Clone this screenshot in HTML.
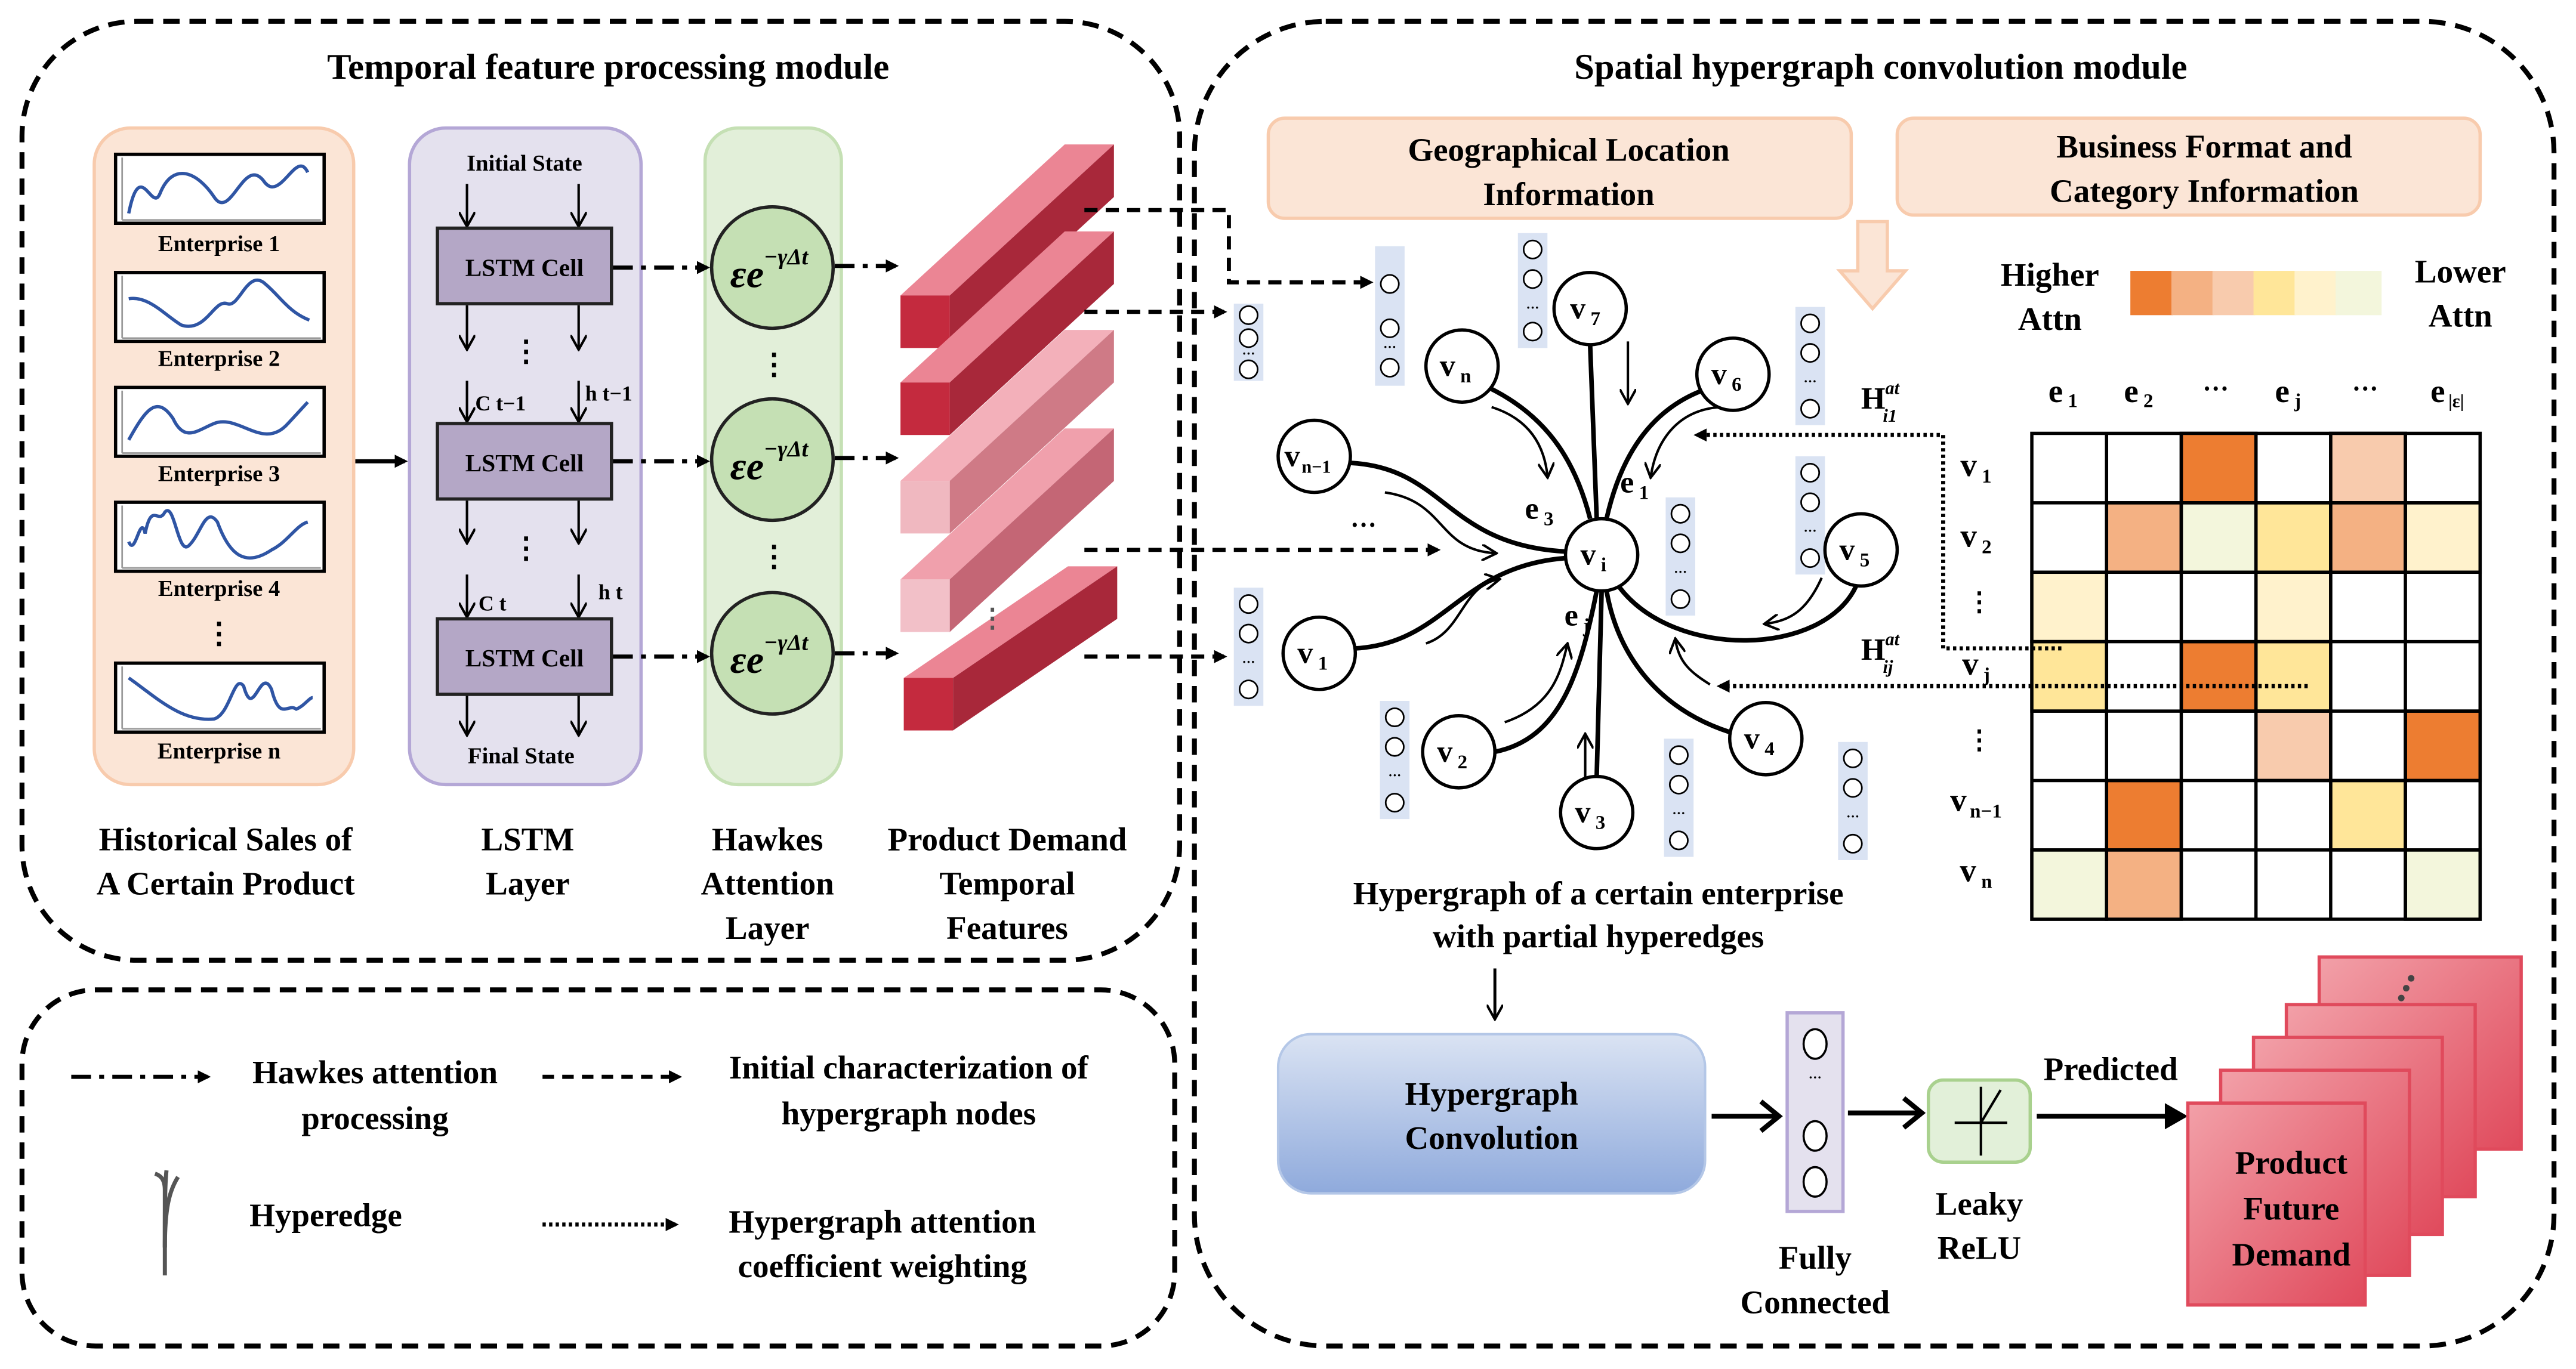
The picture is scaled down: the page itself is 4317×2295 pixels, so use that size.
<!DOCTYPE html>
<html><head><meta charset="utf-8"><style>html,body{margin:0;padding:0;background:#fff}svg{display:block}svg text{font-family:"Liberation Serif","DejaVu Serif",serif;font-weight:bold}</style></head>
<body>
<svg width="4317" height="2295" viewBox="0 0 1568 834" xmlns="http://www.w3.org/2000/svg" style="font-family:'Liberation Serif',serif;font-weight:bold">
<defs>
<marker id="ah" markerWidth="8" markerHeight="8" refX="6" refY="4" orient="auto" markerUnits="userSpaceOnUse"><path d="M0,0 L8,4 L0,8 Z" fill="#000"/></marker>
<marker id="ao" markerWidth="10" markerHeight="10" refX="8" refY="5" orient="auto" markerUnits="userSpaceOnUse"><path d="M0,0 L9,5 L0,10" fill="none" stroke="#000" stroke-width="1.5"/></marker>
<linearGradient id="hg" x1="0" y1="0" x2="0" y2="1"><stop offset="0" stop-color="#DAE3F3"/><stop offset="1" stop-color="#8FAADC"/></linearGradient>
<linearGradient id="pg" x1="0" y1="0" x2="1" y2="1"><stop offset="0" stop-color="#F2A0A8"/><stop offset="1" stop-color="#E04A5C"/></linearGradient>
</defs>

<!-- Left module -->
<rect x="13" y="13" width="705" height="572" rx="70" fill="none" stroke="#000" stroke-width="3" stroke-dasharray="10,6"/>
<text x="370" y="48" font-size="22" text-anchor="middle">Temporal feature processing module</text>

<rect x="57" y="78" width="158" height="400" rx="22" fill="#FBE5D6" stroke="#F8CBAD" stroke-width="2"/>
<g fill="#fff" stroke="#000" stroke-width="2">
<rect x="70" y="94" width="127" height="42"/><rect x="70" y="166" width="127" height="42"/><rect x="70" y="236" width="127" height="42"/><rect x="70" y="306" width="127" height="42"/><rect x="70" y="404" width="127" height="42"/>
</g>
<g fill="none" stroke="#2F55A4" stroke-width="2">
<path d="M78,130 C85,95 92,130 97,118 C105,98 120,105 130,120 C140,135 148,95 160,110 C170,125 180,90 187,105"/>
<path d="M78,182 C90,180 100,192 110,198 C125,203 130,182 138,185 C145,188 150,165 160,172 C170,180 175,190 188,195"/>
<path d="M78,268 C88,250 95,240 105,255 C112,270 120,262 130,258 C145,252 160,275 175,258 L187,245"/>
<path d="M78,330 C82,340 85,312 88,325 C92,305 96,320 100,312 C106,305 108,340 115,332 C122,325 125,308 132,318 C140,340 150,345 165,335 C175,330 180,320 187,318"/>
<path d="M78,413 C95,425 110,440 130,438 C140,435 142,410 148,418 C154,440 158,405 165,420 C170,440 175,428 180,432 C185,430 188,425 190,425"/>
</g>
<g fill="none" stroke="#999" stroke-width="1">
<path d="M74,134 L195,134 M74,134 L74,96"/><path d="M74,206 L195,206 M74,206 L74,168"/><path d="M74,276 L195,276 M74,276 L74,238"/><path d="M74,346 L195,346 M74,346 L74,308"/><path d="M74,444 L195,444 M74,444 L74,406"/>
</g>
<g font-size="14" text-anchor="middle">
<text x="133" y="153">Enterprise 1</text><text x="133" y="223">Enterprise 2</text><text x="133" y="293">Enterprise 3</text><text x="133" y="363">Enterprise 4</text><text x="133" y="462">Enterprise n</text>
<text x="133" y="392" font-size="18">⋮</text>
</g>
<line x1="216" y1="281" x2="246" y2="281" stroke="#000" stroke-width="2.5" marker-end="url(#ah)"/>

<rect x="249" y="78" width="141" height="400" rx="22" fill="#E4E1EE" stroke="#B4A7D6" stroke-width="2"/>
<text x="319" y="104" font-size="14" text-anchor="middle">Initial State</text>
<text x="317" y="465" font-size="14" text-anchor="middle">Final State</text>
<g stroke="#000" stroke-width="1.5" marker-end="url(#ao)">
<line x1="284" y1="112" x2="284" y2="137"/><line x1="352" y1="112" x2="352" y2="137"/>
<line x1="284" y1="186" x2="284" y2="212"/><line x1="352" y1="186" x2="352" y2="212"/>
<line x1="284" y1="232" x2="284" y2="256"/><line x1="352" y1="232" x2="352" y2="256"/>
<line x1="284" y1="305" x2="284" y2="330"/><line x1="352" y1="305" x2="352" y2="330"/>
<line x1="284" y1="350" x2="284" y2="375"/><line x1="352" y1="350" x2="352" y2="375"/>
<line x1="284" y1="423" x2="284" y2="447"/><line x1="352" y1="423" x2="352" y2="447"/>
</g>
<g fill="#B4A7C6" stroke="#222" stroke-width="2">
<rect x="266" y="139" width="106" height="46"/><rect x="266" y="258" width="106" height="46"/><rect x="266" y="377" width="106" height="46"/>
</g>
<g font-size="15" text-anchor="middle">
<text x="319" y="168">LSTM Cell</text><text x="319" y="287">LSTM Cell</text><text x="319" y="406">LSTM Cell</text>
<text x="320" y="220" font-size="18">⋮</text><text x="320" y="340" font-size="18">⋮</text>
</g>
<g font-size="13">
<text x="289" y="250">C t−1</text><text x="356" y="244">h t−1</text><text x="291" y="372">C t</text><text x="364" y="365">h t</text>
</g>

<rect x="429" y="78" width="83" height="400" rx="20" fill="#E2EFD9" stroke="#C5E0B4" stroke-width="2"/>
<g fill="#C5E0B4" stroke="#222" stroke-width="2">
<circle cx="470" cy="163" r="37"/><circle cx="470" cy="280" r="37"/><circle cx="470" cy="398" r="37"/>
</g>
<g font-size="24" font-style="italic" font-weight="normal" text-anchor="middle">
<text x="468" y="175">εe<tspan font-size="14" dy="-14">−γΔt</tspan></text>
<text x="468" y="292">εe<tspan font-size="14" dy="-14">−γΔt</tspan></text>
<text x="468" y="410">εe<tspan font-size="14" dy="-14">−γΔt</tspan></text>
</g>
<text x="471" y="228" font-size="18" text-anchor="middle">⋮</text>
<text x="471" y="345" font-size="18" text-anchor="middle">⋮</text>
<g stroke="#000" stroke-width="2.5" stroke-dasharray="12,5,3,5" marker-end="url(#ah)">
<line x1="373" y1="163" x2="430" y2="163"/><line x1="373" y1="281" x2="430" y2="281"/><line x1="373" y1="400" x2="430" y2="400"/>
<line x1="508" y1="162" x2="545" y2="162"/><line x1="508" y1="279" x2="545" y2="279"/><line x1="508" y1="398" x2="545" y2="398"/>
</g>

<!-- bars -->
<g>
<g><polygon points="548,180 648,88 678,88 578,180" fill="#EB8594"/><polygon points="578,180 678,88 678,120 578,212" fill="#A8283A"/><rect x="548" y="180" width="30" height="32" fill="#C42A3E"/></g>
<g><polygon points="548,233 648,141 678,141 578,233" fill="#EB8594"/><polygon points="578,233 678,141 678,173 578,265" fill="#A8283A"/><rect x="548" y="233" width="30" height="32" fill="#C42A3E"/></g>
<g><polygon points="548,293 648,201 678,201 578,293" fill="#F3B0BA"/><polygon points="578,293 678,201 678,233 578,325" fill="#CF7A86"/><rect x="548" y="293" width="30" height="32" fill="#F0B8C0"/></g>
<g><polygon points="548,353 648,261 678,261 578,353" fill="#F0A0AC"/><polygon points="578,353 678,261 678,293 578,385" fill="#C46675"/><rect x="548" y="353" width="30" height="32" fill="#F2C0C8"/></g>
<g><polygon points="550,413 650,345 680,345 580,413" fill="#EB8594"/><polygon points="580,413 680,345 680,377 580,445" fill="#A8283A"/><rect x="550" y="413" width="30" height="32" fill="#C42A3E"/></g>
<text x="604" y="382" font-size="16" fill="#555" text-anchor="middle">⋮</text>
</g>
<g font-size="20" text-anchor="middle">
<text x="137" y="518">Historical Sales of</text><text x="137" y="545">A Certain Product</text>
<text x="321" y="518">LSTM</text><text x="321" y="545">Layer</text>
<text x="467" y="518">Hawkes</text><text x="467" y="545">Attention</text><text x="467" y="572">Layer</text>
<text x="613" y="518">Product Demand</text><text x="613" y="545">Temporal</text><text x="613" y="572">Features</text>
</g>

<!-- legend box -->
<rect x="13" y="603" width="702" height="217" rx="45" fill="none" stroke="#000" stroke-width="3" stroke-dasharray="10,6"/>
<line x1="43" y1="656" x2="126" y2="656" stroke="#000" stroke-width="2.5" stroke-dasharray="12,5,3,5" marker-end="url(#ah)"/>
<line x1="330" y1="656" x2="413" y2="656" stroke="#000" stroke-width="2.5" stroke-dasharray="7,5" marker-end="url(#ah)"/>
<line x1="330" y1="746" x2="411" y2="746" stroke="#000" stroke-width="2.5" stroke-dasharray="2,2" marker-end="url(#ah)"/>
<g fill="none" stroke="#555" stroke-width="2.5"><path d="M100,777 L100,725 C100,718 97,716 94,715"/><path d="M100,760 C100,735 103,725 108,717"/><path d="M100,760 C100,737 100,722 101,713"/></g>
<g font-size="20" text-anchor="middle">
<text x="228" y="660">Hawkes attention</text><text x="228" y="688">processing</text>
<text x="553" y="657">Initial characterization of</text><text x="553" y="685">hypergraph nodes</text>
<text x="198" y="747">Hyperedge</text>
<text x="537" y="751">Hypergraph attention</text><text x="537" y="778">coefficient weighting</text>
</g>

<!-- right module -->
<rect x="727" y="13" width="828" height="807" rx="80" fill="none" stroke="#000" stroke-width="3" stroke-dasharray="10,6"/>
<text x="1145" y="48" font-size="22" text-anchor="middle">Spatial hypergraph convolution module</text>
<rect x="772" y="72" width="355" height="61" rx="10" fill="#FBE5D6" stroke="#F8CBAD" stroke-width="2"/>
<rect x="1155" y="72" width="355" height="59" rx="10" fill="#FBE5D6" stroke="#F8CBAD" stroke-width="2"/>
<g font-size="20" text-anchor="middle">
<text x="955" y="98">Geographical Location</text><text x="955" y="125">Information</text>
<text x="1342" y="96">Business Format and</text><text x="1342" y="123">Category Information</text>
</g>
<polygon points="1131,135 1149,135 1149,165 1160,165 1140,188 1120,165 1131,165" fill="#FBE5D6" stroke="#F8CBAD" stroke-width="2"/>
<g font-size="20" text-anchor="middle">
<text x="1248" y="174">Higher</text><text x="1248" y="201">Attn</text>
<text x="1498" y="172">Lower</text><text x="1498" y="199">Attn</text>
</g>
<g>
<rect x="1297" y="165" width="26" height="27" fill="#ED7D31"/><rect x="1322" y="165" width="26" height="27" fill="#F4B183"/><rect x="1347" y="165" width="26" height="27" fill="#F8CBAD"/><rect x="1372" y="165" width="26" height="27" fill="#FFE699"/><rect x="1397" y="165" width="26" height="27" fill="#FFF2CC"/><rect x="1422" y="165" width="28" height="27" fill="#F3F6DC"/>
</g>
<g font-size="20" text-anchor="middle">
<text x="1256" y="245">e<tspan font-size="12" dx="3" dy="3">1</tspan></text>
<text x="1302" y="245">e<tspan font-size="12" dx="3" dy="3">2</tspan></text>
<text x="1349" y="242" font-size="16">···</text>
<text x="1393" y="245">e<tspan font-size="12" dx="3" dy="3">j</tspan></text>
<text x="1440" y="242" font-size="16">···</text>
<text x="1490" y="245">e<tspan font-size="11" dx="2" dy="3">|ε|</tspan></text>
<text x="1203" y="290">v<tspan font-size="12" dx="3" dy="4">1</tspan></text>
<text x="1203" y="333">v<tspan font-size="12" dx="3" dy="4">2</tspan></text>
<text x="1205" y="372" font-size="16">⋮</text>
<text x="1203" y="411">v<tspan font-size="12" dx="3" dy="4">j</tspan></text>
<text x="1205" y="456" font-size="16">⋮</text>
<text x="1203" y="494">v<tspan font-size="12" dx="2" dy="4">n−1</tspan></text>
<text x="1203" y="537">v<tspan font-size="12" dx="3" dy="4">n</tspan></text>
</g>
<!-- matrix -->
<g stroke="#000" stroke-width="2">
<rect x="1237" y="264" width="273" height="296" fill="#fff"/>
<rect x="1328" y="264" width="45.5" height="42.3" fill="#ED7D31"/>
<rect x="1419" y="264" width="45.5" height="42.3" fill="#F8CBAD"/>
<rect x="1282.5" y="306.3" width="45.5" height="42.3" fill="#F4B183"/>
<rect x="1328" y="306.3" width="45.5" height="42.3" fill="#F3F6DC"/>
<rect x="1373.5" y="306.3" width="45.5" height="42.3" fill="#FFE699"/>
<rect x="1419" y="306.3" width="45.5" height="42.3" fill="#F4B183"/>
<rect x="1464.5" y="306.3" width="45.5" height="42.3" fill="#FFF2CC"/>
<rect x="1237" y="348.6" width="45.5" height="42.3" fill="#FFF2CC"/>
<rect x="1373.5" y="348.6" width="45.5" height="42.3" fill="#FFF2CC"/>
<rect x="1237" y="390.9" width="45.5" height="42.3" fill="#FFE699"/>
<rect x="1328" y="390.9" width="45.5" height="42.3" fill="#ED7D31"/>
<rect x="1373.5" y="390.9" width="45.5" height="42.3" fill="#FFE699"/>
<rect x="1373.5" y="433.2" width="45.5" height="42.3" fill="#F8CBAD"/>
<rect x="1464.5" y="433.2" width="45.5" height="42.3" fill="#ED7D31"/>
<rect x="1282.5" y="475.5" width="45.5" height="42.3" fill="#ED7D31"/>
<rect x="1419" y="475.5" width="45.5" height="42.3" fill="#FFE699"/>
<rect x="1237" y="517.8" width="45.5" height="42.2" fill="#F3F6DC"/>
<rect x="1282.5" y="517.8" width="45.5" height="42.2" fill="#F4B183"/>
<rect x="1464.5" y="517.8" width="45.5" height="42.2" fill="#F3F6DC"/>
<path d="M1282.5,264V560M1328,264V560M1373.5,264V560M1419,264V560M1464.5,264V560M1237,306.3H1510M1237,348.6H1510M1237,390.9H1510M1237,433.2H1510M1237,475.5H1510M1237,517.8H1510" fill="none"/>
</g>

<!-- dashed connections -->
<g stroke="#000" stroke-width="2.5" stroke-dasharray="8,5" fill="none">
<path d="M660,128 H748 V172 H834" marker-end="url(#ah)"/>
<path d="M660,190 H745" marker-end="url(#ah)"/>
<path d="M660,335 H875" marker-end="url(#ah)"/>
<path d="M660,400 H745" marker-end="url(#ah)"/>
</g>
<!-- dotted -->
<g stroke="#000" stroke-width="2.5" stroke-dasharray="2,2" fill="none">
<path d="M1255,395 H1183 V265 H1033" marker-end="url(#ah)"/>
<path d="M1405,418 H1047" marker-end="url(#ah)"/>
</g>
<g font-size="19" font-weight="normal">
<text x="1133" y="249" font-weight="normal">H<tspan font-size="11" font-style="italic" dy="-9">at</tspan><tspan font-size="11" font-style="italic" dx="-10" dy="17">i1</tspan></text>
<text x="1133" y="402" font-weight="normal">H<tspan font-size="11" font-style="italic" dy="-9">at</tspan><tspan font-size="11" font-style="italic" dx="-10" dy="17">ij</tspan></text>
</g>

<!-- vector columns -->
<g>
<g transform="translate(751,185)"><rect width="18" height="47" fill="#DAE3F3"/><g fill="#fff" stroke="#000" stroke-width="1"><circle cx="9" cy="7" r="5.5"/><circle cx="9" cy="21" r="5.5"/><circle cx="9" cy="40" r="5.5"/></g><text x="9" y="33" font-size="8" text-anchor="middle">···</text></g>
<g transform="translate(837,150)"><rect width="18" height="85" fill="#DAE3F3"/><g fill="#fff" stroke="#000" stroke-width="1"><circle cx="9" cy="23" r="5.5"/><circle cx="9" cy="50" r="5.5"/><circle cx="9" cy="74" r="5.5"/></g><text x="9" y="64" font-size="8" text-anchor="middle">···</text></g>
<g transform="translate(924,142)"><rect width="18" height="70" fill="#DAE3F3"/><g fill="#fff" stroke="#000" stroke-width="1"><circle cx="9" cy="10" r="5.5"/><circle cx="9" cy="28" r="5.5"/><circle cx="9" cy="60" r="5.5"/></g><text x="9" y="48" font-size="8" text-anchor="middle">···</text></g>
<g transform="translate(1093,187)"><rect width="18" height="72" fill="#DAE3F3"/><g fill="#fff" stroke="#000" stroke-width="1"><circle cx="9" cy="10" r="5.5"/><circle cx="9" cy="28" r="5.5"/><circle cx="9" cy="62" r="5.5"/></g><text x="9" y="48" font-size="8" text-anchor="middle">···</text></g>
<g transform="translate(1093,278)"><rect width="18" height="72" fill="#DAE3F3"/><g fill="#fff" stroke="#000" stroke-width="1"><circle cx="9" cy="10" r="5.5"/><circle cx="9" cy="28" r="5.5"/><circle cx="9" cy="62" r="5.5"/></g><text x="9" y="48" font-size="8" text-anchor="middle">···</text></g>
<g transform="translate(1014,303)"><rect width="18" height="72" fill="#DAE3F3"/><g fill="#fff" stroke="#000" stroke-width="1"><circle cx="9" cy="10" r="5.5"/><circle cx="9" cy="28" r="5.5"/><circle cx="9" cy="62" r="5.5"/></g><text x="9" y="48" font-size="8" text-anchor="middle">···</text></g>
<g transform="translate(751,358)"><rect width="18" height="72" fill="#DAE3F3"/><g fill="#fff" stroke="#000" stroke-width="1"><circle cx="9" cy="10" r="5.5"/><circle cx="9" cy="28" r="5.5"/><circle cx="9" cy="62" r="5.5"/></g><text x="9" y="48" font-size="8" text-anchor="middle">···</text></g>
<g transform="translate(840,427)"><rect width="18" height="72" fill="#DAE3F3"/><g fill="#fff" stroke="#000" stroke-width="1"><circle cx="9" cy="10" r="5.5"/><circle cx="9" cy="28" r="5.5"/><circle cx="9" cy="62" r="5.5"/></g><text x="9" y="48" font-size="8" text-anchor="middle">···</text></g>
<g transform="translate(1013,450)"><rect width="18" height="72" fill="#DAE3F3"/><g fill="#fff" stroke="#000" stroke-width="1"><circle cx="9" cy="10" r="5.5"/><circle cx="9" cy="28" r="5.5"/><circle cx="9" cy="62" r="5.5"/></g><text x="9" y="48" font-size="8" text-anchor="middle">···</text></g>
<g transform="translate(1119,452)"><rect width="18" height="72" fill="#DAE3F3"/><g fill="#fff" stroke="#000" stroke-width="1"><circle cx="9" cy="10" r="5.5"/><circle cx="9" cy="28" r="5.5"/><circle cx="9" cy="62" r="5.5"/></g><text x="9" y="48" font-size="8" text-anchor="middle">···</text></g>
</g>

<!-- hyperedges -->
<g fill="none" stroke="#000" stroke-width="2.8">
<path d="M906,236 C945,255 960,285 968,316"/>
<path d="M968,210 L972,316"/>
<path d="M1036,238 C1000,252 985,285 978,316"/>
<path d="M822,282 C880,285 880,332 953,336"/>
<path d="M825,395 C880,392 888,345 953,340"/>
<path d="M1130,357 C1110,400 1020,402 986,358"/>
<path d="M910,458 C950,450 962,410 972,360"/>
<path d="M972,473 L975,360"/>
<path d="M1053,446 C1010,432 985,400 978,360"/>
</g>
<g fill="none" stroke="#000" stroke-width="1.5" marker-end="url(#ao)">
<path d="M908,248 C930,255 940,270 942,290"/>
<path d="M991,208 L991,245"/>
<path d="M1047,248 C1020,250 1008,270 1005,290"/>
<path d="M843,300 C880,305 875,335 910,337"/>
<path d="M868,392 C890,385 890,357 912,353"/>
<path d="M1109,352 C1100,372 1090,378 1075,380"/>
<path d="M916,440 C945,430 950,410 954,393"/>
<path d="M965,478 L965,448"/>
<path d="M1041,417 C1030,410 1022,404 1020,390"/>
</g>
<!-- nodes -->
<g fill="#fff" stroke="#000" stroke-width="2">
<circle cx="975" cy="338" r="22"/>
<circle cx="968" cy="188" r="22"/><circle cx="890" cy="223" r="22"/><circle cx="1055" cy="228" r="22"/>
<circle cx="800" cy="278" r="22"/><circle cx="1133" cy="335" r="22"/><circle cx="803" cy="398" r="22"/>
<circle cx="888" cy="458" r="22"/><circle cx="972" cy="495" r="22"/><circle cx="1075" cy="450" r="22"/>
</g>
<g font-size="19" text-anchor="middle">
<text x="970" y="344">v<tspan font-size="12" dx="3" dy="4">i</tspan></text>
<text x="965" y="194">v<tspan font-size="12" dx="3" dy="4">7</tspan></text>
<text x="886" y="229">v<tspan font-size="12" dx="3" dy="4">n</tspan></text>
<text x="1051" y="234">v<tspan font-size="12" dx="3" dy="4">6</tspan></text>
<text x="796" y="284">v<tspan font-size="11" dx="1" dy="4">n−1</tspan></text>
<text x="1129" y="341">v<tspan font-size="12" dx="3" dy="4">5</tspan></text>
<text x="799" y="404">v<tspan font-size="12" dx="3" dy="4">1</tspan></text>
<text x="884" y="464">v<tspan font-size="12" dx="3" dy="4">2</tspan></text>
<text x="968" y="501">v<tspan font-size="12" dx="3" dy="4">3</tspan></text>
<text x="1071" y="456">v<tspan font-size="12" dx="3" dy="4">4</tspan></text>
<text x="995" y="300">e<tspan font-size="12" dx="3" dy="4">1</tspan></text>
<text x="937" y="316">e<tspan font-size="12" dx="3" dy="4">3</tspan></text>
<text x="960" y="381">e<tspan font-size="12" dx="3" dy="4">j</tspan></text>
<text x="830" y="325" font-size="16">···</text>
</g>
<g font-size="20" text-anchor="middle">
<text x="973" y="551">Hypergraph of a certain enterprise</text>
<text x="973" y="577">with partial hyperedges</text>
</g>
<line x1="910" y1="590" x2="910" y2="620" stroke="#000" stroke-width="1.8" marker-end="url(#ao)"/>

<!-- bottom pipeline -->
<rect x="778" y="630" width="260" height="97" rx="20" fill="url(#hg)" stroke="#B4C7E7" stroke-width="1.5"/>
<g font-size="20" text-anchor="middle"><text x="908" y="673">Hypergraph</text><text x="908" y="700">Convolution</text></g>
<g stroke="#000" stroke-width="3" fill="none">
<line x1="1042" y1="680" x2="1082" y2="680"/><path d="M1072,671 L1083,680 L1072,689"/>
<line x1="1125" y1="678" x2="1168" y2="678"/><path d="M1159,669 L1170,678 L1159,687"/>
<line x1="1240" y1="680" x2="1326" y2="680"/>
</g>
<polygon points="1318,672 1332,680 1318,688" fill="#000"/>
<rect x="1088" y="617" width="34" height="121" fill="#E4E1EE" stroke="#B4A7D6" stroke-width="2"/>
<g fill="#fff" stroke="#000" stroke-width="1.3"><ellipse cx="1105" cy="636" rx="7" ry="9"/><ellipse cx="1105" cy="692" rx="7" ry="9"/><ellipse cx="1105" cy="720" rx="7" ry="9"/></g>
<text x="1105" y="659" font-size="8" text-anchor="middle">···</text>
<rect x="1174" y="658" width="62" height="50" rx="9" fill="#E2F0D9" stroke="#A9D18E" stroke-width="2"/>
<g stroke="#000" stroke-width="1.5"><line x1="1206" y1="662" x2="1206" y2="704"/><line x1="1190" y1="684" x2="1222" y2="684"/><line x1="1206" y1="684" x2="1218" y2="664"/></g>
<g font-size="20" text-anchor="middle">
<text x="1205" y="740">Leaky</text><text x="1205" y="767">ReLU</text>
<text x="1105" y="773">Fully</text><text x="1105" y="800">Connected</text>
<text x="1285" y="658">Predicted</text>
</g>
<g stroke="#E04A5C" stroke-width="2" fill="url(#pg)">
<rect x="1412" y="583" width="123" height="117"/>
<rect x="1392" y="612" width="115" height="117"/>
<rect x="1372" y="632" width="115" height="120"/>
<rect x="1352" y="652" width="115" height="125"/>
<rect x="1332" y="672" width="108" height="123"/>
</g>
<g fill="#444"><circle cx="1468" cy="596" r="2"/><circle cx="1465" cy="602" r="2"/><circle cx="1462" cy="608" r="2"/></g>
<g font-size="20" text-anchor="middle"><text x="1395" y="715">Product</text><text x="1395" y="743">Future</text><text x="1395" y="771">Demand</text></g>
</svg>
</body></html>
